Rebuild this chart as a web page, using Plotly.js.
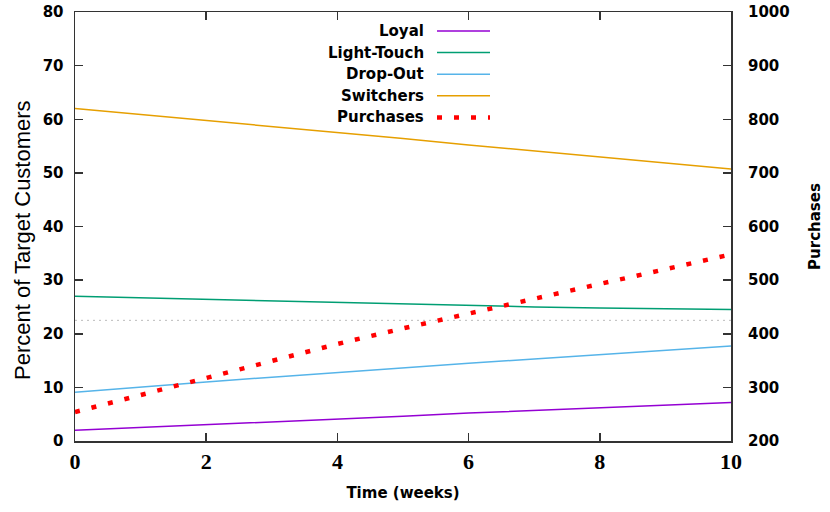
<!DOCTYPE html>
<html>
<head>
<meta charset="utf-8">
<script src="https://cdn.plot.ly/plotly-3.0.1.min.js"></script>
<style>
html,body{margin:0;padding:0;background:#fff;}
#chart{width:830px;height:512px;}
</style>
</head>
<body>
<div id="chart"></div>
<script>
// ---- data ----
const weeks = [0, 1, 2, 3, 4, 5, 6, 7, 8, 9, 10];
const seriesNames = ["Loyal", "Light-Touch", "Drop-Out", "Switchers", "Purchases"];
const loyal = [2.0, 2.5, 3.0, 3.6, 4.1, 4.6, 5.2, 5.7, 6.2, 6.7, 7.2];
const lightTouch = [27.0, 26.7, 26.4, 26.1, 25.85, 25.5, 25.25, 25.0, 24.8, 24.6, 24.5];
const dropOut = [9.1, 10.1, 11.0, 11.9, 12.8, 13.6, 14.5, 15.3, 16.1, 16.9, 17.7];
const switchers = [62.0, 60.9, 59.8, 58.6, 57.5, 56.4, 55.2, 54.1, 53.0, 51.8, 50.7];
const purchases = [254, 286, 318, 350, 381, 410, 438, 466, 494, 521, 548];
const refLevel = [22.5, 22.5];
const refWeeks = [0, 10];
const xTicks = [0, 2, 4, 6, 8, 10];
const yTicks = [0, 10, 20, 30, 40, 50, 60, 70, 80];
const y2Ticks = [200, 300, 400, 500, 600, 700, 800, 900, 1000];

// ---- styling ----
const colors = ["#9400d3", "#009e73", "#56b4e9", "#e69f00", "#ff0000"];
const boldSans = {family: "DejaVu Sans", size: 15, color: "#000", weight: 700};

const traces = [
  {x: refWeeks, y: refLevel, mode: "lines", line: {color: "#bbbbbb", width: 1, dash: "2px,4px"}, hoverinfo: "skip", showlegend: false},
  {x: weeks, y: loyal, name: seriesNames[0], mode: "lines", line: {color: colors[0], width: 1.5}},
  {x: weeks, y: lightTouch, name: seriesNames[1], mode: "lines", line: {color: colors[1], width: 1.5}},
  {x: weeks, y: dropOut, name: seriesNames[2], mode: "lines", line: {color: colors[2], width: 1.5}},
  {x: weeks, y: switchers, name: seriesNames[3], mode: "lines", line: {color: colors[3], width: 1.5}},
  {x: weeks, y: purchases, name: seriesNames[4], yaxis: "y2", mode: "lines", line: {color: colors[4], width: 4.5, dash: "5px,12px"}}
];

const W = 830, H = 512;
const L = 75, R = 731, T = 12, B = 441;
function px2paperX(p){ return (p - L) / (R - L); }
function px2paperY(p){ return (B - p) / (B - T); }

// manual legend (text left of sample, as in reference)
const legTop = 31, legStep = 21.6;
const annotations = [];
const shapes = [];
seriesNames.forEach((n, i) => {
  const yPix = legTop + i * legStep;
  annotations.push({xref: "paper", yref: "paper", x: px2paperX(426), y: px2paperY(yPix),
    xanchor: "right", yanchor: "middle", text: n, showarrow: false, font: boldSans});
  shapes.push({type: "line", xref: "paper", yref: "paper",
    x0: px2paperX(437), x1: px2paperX(490), y0: px2paperY(yPix), y1: px2paperY(yPix),
    line: {color: colors[i], width: i === 4 ? 4.5 : 1.5, dash: i === 4 ? "5px,12px" : "solid"}});
});
annotations.push({xref: "paper", yref: "paper", x: px2paperX(22), y: px2paperY(240), xanchor: "center", yanchor: "middle",
  text: "Percent of Target Customers", textangle: -90, showarrow: false,
  font: {family: "Liberation Sans", size: 22, color: "#000"}});

const layout = {
  width: W, height: H,
  margin: {l: L, r: W - R, t: T, b: H - B},
  paper_bgcolor: "#fff", plot_bgcolor: "#fff",
  showlegend: false,
  hovermode: false,
  xaxis: {range: [0, 10], tickvals: xTicks, ticktext: xTicks.map(String),
    ticks: "inside", ticklen: 8, tickwidth: 1.5, tickcolor: "#333",
    showline: true, linecolor: "#333", linewidth: 1.5, mirror: "ticks",
    showgrid: false, zeroline: false,
    tickfont: {family: "Liberation Serif", size: 22, color: "#000", weight: 700},
    title: {text: "Time (weeks)", font: boldSans, standoff: 14}},
  yaxis: {range: [0, 80], tickvals: yTicks, ticktext: yTicks.map(String),
    ticks: "inside", ticklen: 8, tickwidth: 1.5, tickcolor: "#333",
    showline: true, linecolor: "#333", linewidth: 1.5, mirror: true,
    showgrid: false, zeroline: false, tickfont: boldSans, ticklabelstandoff: 7},
  yaxis2: {range: [200, 1000], tickvals: y2Ticks, ticktext: y2Ticks.map(String),
    overlaying: "y", side: "right",
    ticks: "inside", ticklen: 8, tickwidth: 1.5, tickcolor: "#333",
    showline: false, showgrid: false, zeroline: false, tickfont: boldSans,
    ticklabelstandoff: 16,
    title: {text: "Purchases", font: boldSans, standoff: 20}},
  annotations: annotations,
  shapes: shapes
};

Plotly.newPlot("chart", traces, layout, {displayModeBar: false, staticPlot: true});
</script>
</body>
</html>
